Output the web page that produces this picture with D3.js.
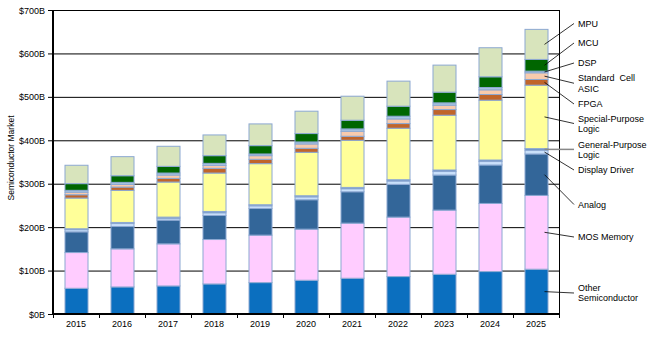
<!DOCTYPE html>
<html><head><meta charset="utf-8">
<script src="https://cdn.jsdelivr.net/npm/d3@7/dist/d3.min.js"></script>
<style>body{margin:0;background:#fff}svg{display:block;font-family:"Liberation Sans",Arial,sans-serif}</style>
</head><body><svg id="c" width="653" height="337"></svg>
<script>
const years = ["2015","2016","2017","2018","2019","2020","2021","2022","2023","2024","2025"];
// series, bottom to top, values in $B
const otherSemi   = [59.2, 62.3, 64.6, 69.2, 72.3, 77.7, 82.3, 86.2, 91.5, 97.7, 103.1];
const mosMemory   = [82.3, 87.7, 96.9, 102.3, 109.3, 117.7, 126.9, 136.9, 147.7, 156.9, 170.0];
const analog      = [47.7, 51.5, 54.7, 55.4, 61.5, 67.7, 72.3, 75.4, 80.8, 88.5, 95.4];
const displayDrv  = [5.0, 6.8, 4.4, 6.2, 6.0, 6.7, 7.0, 7.7, 8.1, 8.0, 8.8];
const genLogic    = [2.0, 2.5, 2.5, 3.0, 2.5, 2.5, 3.0, 3.0, 3.5, 3.5, 3.5];
const specLogic   = [70.8, 73.8, 80.8, 88.5, 94.6, 100.0, 108.5, 118.5, 126.1, 137.7, 146.1];
const fpga        = [7.6, 7.7, 8.4, 10.8, 10.0, 9.2, 9.2, 10.8, 13.1, 13.1, 13.1];
const stdCell     = [6.0, 6.2, 7.7, 6.9, 8.4, 10.1, 11.6, 10.7, 10.0, 10.8, 15.4];
const dsp         = [4.2, 4.6, 4.6, 4.6, 3.9, 4.6, 5.4, 6.2, 5.4, 5.3, 3.8];
const mcu         = [15.4, 15.3, 15.4, 17.7, 19.2, 19.3, 20.0, 23.1, 24.6, 24.7, 27.0];
const mpu         = [42.3, 43.9, 46.2, 47.7, 50.0, 51.5, 55.3, 57.7, 62.3, 66.9, 69.2];
const yTicks = [0,100,200,300,400,500,600,700];
const yTickLabels = ["$0B","$100B","$200B","$300B","$400B","$500B","$600B","$700B"];

const series = [
  {name:"Other Semiconductor", lines:["Other","Semiconductor"], v:otherSemi, color:"#0B6FBF", ly:[288,298]},
  {name:"MOS Memory", lines:["MOS Memory"], v:mosMemory, color:"#FFCCFF", ly:[237]},
  {name:"Analog", lines:["Analog"], v:analog, color:"#336699", ly:[204.5]},
  {name:"Display Driver", lines:["Display Driver"], v:displayDrv, color:"#C9E0FA", ly:[170]},
  {name:"General-Purpose Logic", lines:["General-Purpose","Logic"], v:genLogic, color:"#5A86BF", ly:[145,154.5], gray:true},
  {name:"Special-Purpose Logic", lines:["Special-Purpose","Logic"], v:specLogic, color:"#FFFF99", ly:[118.5,128.5]},
  {name:"FPGA", lines:["FPGA"], v:fpga, color:"#C0652A", ly:[104]},
  {name:"Standard Cell ASIC", lines:["Standard  Cell","ASIC"], v:stdCell, color:"#F8CBAD", ly:[78,88.5]},
  {name:"DSP", lines:["DSP"], v:dsp, color:"#A9C6E2", ly:[63]},
  {name:"MCU", lines:["MCU"], v:mcu, color:"#006600", ly:[43]},
  {name:"MPU", lines:["MPU"], v:mpu, color:"#D8E4BC", ly:[23.5]}
];

const svg = d3.select("#c");
const L=53, R=559, T=10, B=314;
const x = d3.scaleBand().domain(years).range([L,R]).paddingInner(0.5).paddingOuter(0.25);
const y = d3.scaleLinear().domain([0,700]).range([B,T]);

// gridlines
svg.append("g").selectAll("line").data(yTicks.filter(d=>d>0)).join("line")
  .attr("x1",L).attr("x2",R).attr("y1",d=>y(d)+0.5).attr("y2",d=>y(d)+0.5)
  .attr("stroke","#000").attr("stroke-width",1);
svg.append("line").attr("x1",R+0.5).attr("x2",R+0.5).attr("y1",T).attr("y2",B).attr("stroke","#000");

// stacked bars
const rows = years.map((yr,i)=>{const o={year:yr}; series.forEach(s=>o[s.name]=s.v[i]); return o;});
const stack = d3.stack().keys(series.map(s=>s.name))(rows);
const gBars = svg.append("g");
stack.forEach((layer,si)=>{
  gBars.append("g").selectAll("rect").data(layer).join("rect")
    .attr("x",d=>x(d.data.year)+0.5).attr("width",x.bandwidth())
    .attr("y",d=>y(d[1])).attr("height",d=>y(d[0])-y(d[1]))
    .attr("fill",series[si].color).attr("stroke","#8CA8D2").attr("stroke-width",1);
});

// axes
svg.append("line").attr("x1",L).attr("x2",L).attr("y1",T).attr("y2",B+1).attr("stroke","#000").attr("stroke-width",2);
svg.append("line").attr("x1",L).attr("x2",R+1).attr("y1",B).attr("y2",B).attr("stroke","#000").attr("stroke-width",2);
svg.append("g").selectAll("line").data(yTicks).join("line")
  .attr("x1",L-5).attr("x2",L).attr("y1",d=>y(d)+0.5).attr("y2",d=>y(d)+0.5).attr("stroke","#000");
svg.append("g").selectAll("text").data(yTicks).join("text")
  .attr("x",L-8).attr("y",d=>y(d)+3.5).attr("text-anchor","end")
  .attr("font-size",9).attr("fill","#000").text((d,i)=>yTickLabels[i]);
const step = x.step();
svg.append("g").selectAll("line").data(d3.range(0,12)).join("line")
  .attr("x1",i=>L+i*step+0.5).attr("x2",i=>L+i*step+0.5).attr("y1",B).attr("y2",B+4).attr("stroke","#000");
svg.append("g").selectAll("text").data(years).join("text")
  .attr("x",d=>x(d)+x.bandwidth()/2).attr("y",B+13).attr("text-anchor","middle")
  .attr("font-size",9).attr("fill","#000").text(d=>d);
svg.append("text").attr("transform","translate(14,158) rotate(-90)").attr("text-anchor","middle")
  .attr("font-size",8.5).attr("fill","#000").text("Semiconductor Market");

// legend with leader lines to last bar
const last = stack.map(l=>l[l.length-1]);
const bx = x(years[years.length-1]) + x.bandwidth() - 3;
series.forEach((s,si)=>{
  const d = last[si];
  const ay = y((d[0]+d[1])/2);
  const ty = s.ly[0] + (s.lines.length>1 ? 3 : 0) ;
  const lineY = s.lines.length>1 ? (s.ly[0]+s.ly[s.lines.length-1])/2 : s.ly[0];
  svg.append("line").attr("x1",bx).attr("y1",ay).attr("x2",574).attr("y2",s.name==="General-Purpose Logic"?ay:lineY)
    .attr("stroke",s.gray?"#888":"#000").attr("stroke-width",s.gray?1.5:0.8);
  s.lines.forEach((t,j)=>{
    svg.append("text").attr("x",578).attr("y",s.ly[j]+3.2).attr("font-size",9).attr("fill","#000")
      .attr("xml:space","preserve").style("white-space","pre").text(t);
  });
});
</script></body></html>
